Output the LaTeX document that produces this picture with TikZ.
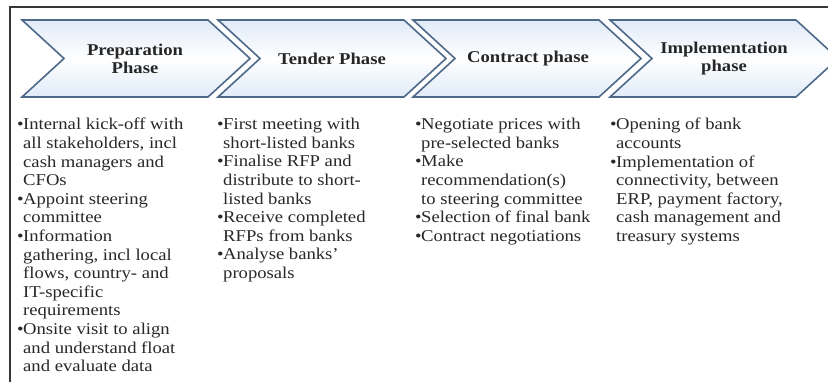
\documentclass[tikz,border=0pt]{standalone}
\usepackage{fontspec}
\setmainfont{Liberation Serif}[FakeStretch=1.13]
\usetikzlibrary{positioning}
\definecolor{chevedge}{RGB}{78,104,138}
\definecolor{chevtint}{RGB}{224,235,248}
\definecolor{frameline}{RGB}{55,55,55}
\definecolor{bodytext}{RGB}{40,40,40}
\tikzset{
  % --- phase chevrons --------------------------------------------------------
  chevron/.style={draw=chevedge,line width=1.6pt,line join=miter,
                  top color=chevtint,bottom color=chevtint,middle color=white},
  phasehead/.style={font=\bfseries\fontsize{16.5}{18}\selectfont,align=center,
                    text=black!85,inner sep=0pt},
  % --- task lists under each phase -------------------------------------------
  tasklist/.style={anchor=north west,text width=210pt,align=flush left,
                   inner sep=0pt,font=\fontsize{16.5}{18.6}\selectfont,
                   text=bodytext},
}
% one bulleted task, continuation lines hang under the text
\newcommand{\task}[1]{\hangindent=6pt\hangafter=1\noindent
  \makebox[6pt][l]{\textbullet}#1\par}

\begin{document}
\begin{tikzpicture}[x=1pt, y=-1pt]
  \clip (0,0) rectangle (828,382);
  \fill[white] (0,0) rectangle (828,382);
  \def\ct{20}          % chevron top
  \def\hh{38.5}        % half height of a chevron
  \def\cw{186}         % straight top edge
  \def\cd{42}          % depth of tip and notch
  \def\ty{118}         % top of the first task line

  % frame
  \draw[frameline,line width=1.3pt] (10,382) -- (10,7) -- (828,7);

  % {left edge} -- one chevron per phase
  \foreach \x in {22,218,413,610}{
    \draw[chevron] (\x,\ct) -- ++(\cw,0) -- ++(\cd,\hh) -- ++(-\cd,\hh)
          -- ++(-\cw,0) -- ++(\cd,-\hh) -- cycle;
  }

  \node[phasehead] (prep)     at (135,\ct+\hh) {Preparation\\Phase};
  \node[phasehead] (tender)   at (332,\ct+\hh) {Tender Phase};
  \node[phasehead] (contract) at (528,\ct+\hh) {Contract phase};
  \node[phasehead] (impl)     at (724,\ct+\hh) {Implementation\\phase};

  \node[tasklist] (preptasks) at (17,\ty) {%
    \task{Internal kick-off with\newline all stakeholders, incl\newline
          cash managers and\newline CFOs}%
    \task{Appoint steering\newline committee}%
    \task{Information\newline gathering, incl local\newline
          flows, country- and\newline IT-specific\newline requirements}%
    \task{Onsite visit to align\newline and understand float\newline
          and evaluate data}};

  \node[tasklist] (tendertasks) at (217,\ty) {%
    \task{First meeting with\newline short-listed banks}%
    \task{Finalise RFP and\newline distribute to short-\newline listed banks}%
    \task{Receive completed\newline RFPs from banks}%
    \task{Analyse banks'\newline proposals}};

  \node[tasklist] (contracttasks) at (415,\ty) {%
    \task{Negotiate prices with\newline pre-selected banks}%
    \task{Make\newline recommendation(s)\newline to steering committee}%
    \task{Selection of final bank}%
    \task{Contract negotiations}};

  \node[tasklist] (impltasks) at (610,\ty) {%
    \task{Opening of bank\newline accounts}%
    \task{Implementation of\newline connectivity, between\newline
          ERP, payment factory,\newline cash management and\newline
          treasury systems}};
\end{tikzpicture}
\end{document}
